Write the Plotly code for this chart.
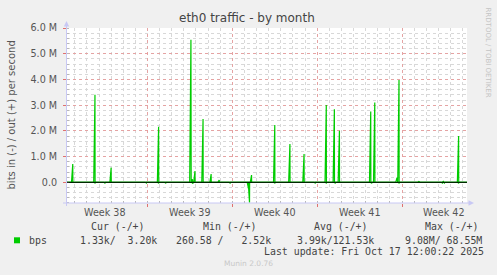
import plotly.graph_objects as go
from datetime import datetime, timedelta

# ---------------- data ----------------
out_times = ["2025-09-15 20:00", "2025-09-17 16:00", "2025-09-19 00:00", "2025-09-22 22:00",
             "2025-09-25 14:00", "2025-09-25 17:00", "2025-09-25 22:00", "2025-09-26 14:00",
             "2025-09-27 06:00", "2025-09-27 22:00", "2025-09-30 14:00", "2025-10-02 12:00",
             "2025-10-03 18:00", "2025-10-04 22:00", "2025-10-06 18:00", "2025-10-07 10:00",
             "2025-10-07 20:00", "2025-10-10 10:00", "2025-10-10 18:00", "2025-10-12 14:00",
             "2025-10-12 18:00", "2025-10-14 10:00", "2025-10-16 10:00", "2025-10-17 16:00"]
out_bps = [0.71e6, 3.40e6, 0.57e6, 2.16e6,
           5.54e6, 0.12e6, 0.44e6, 2.46e6,
           0.32e6, 0.09e6, 0.28e6, 2.23e6,
           1.49e6, 1.10e6, 3.01e6, 2.84e6,
           2.00e6, 2.75e6, 3.10e6, 0.18e6,
           3.98e6, 0.04e6, 0.03e6, 1.80e6]

in_times = ["2025-09-17 16:00", "2025-09-18 12:00", "2025-09-21 22:00", "2025-09-22 22:00",
            "2025-09-23 12:00", "2025-09-25 18:00", "2025-09-28 20:00", "2025-09-30 08:00",
            "2025-09-30 10:00", "2025-10-02 12:00", "2025-10-05 20:00", "2025-10-06 18:00",
            "2025-10-07 12:00", "2025-10-10 12:00", "2025-10-12 18:00", "2025-10-16 08:00",
            "2025-10-16 12:00", "2025-10-17 16:00"]
in_bps = [-0.03e6, -0.04e6, -0.03e6, -0.03e6,
          -0.03e6, -0.05e6, -0.04e6, -0.25e6,
          -0.79e6, -0.03e6, -0.03e6, -0.03e6,
          -0.04e6, -0.04e6, -0.03e6, -0.03e6,
          -0.03e6, -0.03e6]

x_start = "2025-09-15 08:37"
x_end = "2025-10-18 08:37"
week_starts = ["2025-09-22", "2025-09-29", "2025-10-06", "2025-10-13"]
week_label_times = ["2025-09-18 12:00", "2025-09-25 12:00", "2025-10-02 12:00",
                    "2025-10-09 12:00", "2025-10-16 12:00"]
week_labels = ["Week 38", "Week 39", "Week 40", "Week 41", "Week 42"]

y_tickvals = [0, 1e6, 2e6, 3e6, 4e6, 5e6, 6e6]
y_ticktext = ["0.0", "1.0 M", "2.0 M", "3.0 M", "4.0 M", "5.0 M", "6.0 M"]

legend_name = "bps"
legend_headers = ["Cur (-/+)", "Min (-/+)", "Avg (-/+)", "Max (-/+)"]
legend_values = ["1.33k/  3.20k", "260.58 /   2.52k", "3.99k/121.53k", "9.08M/ 68.55M"]
last_update = "Last update: Fri Oct 17 12:00:22 2025"

# ---------------- layout geometry (pixels) ----------------
W, H = 497, 275
L, R, T, B = 67, 467, 28, 203


def px(x):
    return (x - L) / (R - L)


def py(y):
    return (B - y) / (B - T)


def spike_series(times, vals):
    xs, ys = [datetime.strptime(x_start, "%Y-%m-%d %H:%M")], [0]
    for t, v in zip(times, vals):
        tt = datetime.strptime(t, "%Y-%m-%d %H:%M")
        xs += [tt - timedelta(hours=2.5), tt, tt + timedelta(minutes=15)]
        ys += [0, v, 0]
    xs.append(datetime.strptime(x_end, "%Y-%m-%d %H:%M"))
    ys.append(0)
    return xs, ys


GREEN = "#00CC00"
fig = go.Figure()
ox, oy = spike_series(out_times, out_bps)
ix, iy = spike_series(in_times, in_bps)
fig.add_trace(go.Scatter(x=ix, y=iy, mode="lines", line=dict(color=GREEN, width=1.2),
                         hoverinfo="skip", showlegend=False))
fig.add_trace(go.Scatter(x=ox, y=oy, mode="lines", line=dict(color=GREEN, width=1.2),
                         hoverinfo="skip", showlegend=False))

MAJ = "rgba(232,150,150,0.8)"
MIN = "#d8d8d8"
AXC = "#c8c8f4"
TXT = "#555555"

fig.update_layout(
    width=W, height=H,
    margin=dict(l=L, r=W - R, t=T, b=H - B, pad=0),
    paper_bgcolor="#F0F0F0",
    plot_bgcolor="#FFFFFF",
    showlegend=False,
    font=dict(family="DejaVu Sans", color=TXT, size=10),
    xaxis=dict(
        type="date", range=[x_start, x_end],
        tickvals=week_starts, showticklabels=False,
        showgrid=True, gridcolor=MAJ, griddash="dot", gridwidth=1,
        ticks="outside", ticklen=3, tickcolor="#e07070",
        minor=dict(dtick=86400000, tick0="2025-09-15", showgrid=True, gridcolor=MIN,
                   griddash="dot", ticks="inside", ticklen=2, tickcolor="#b8b8b8"),
        zeroline=False, showline=False, fixedrange=True,
    ),
    yaxis=dict(
        range=[-0.805e6, 6.0e6],
        tickvals=y_tickvals, ticktext=y_ticktext,
        tickfont=dict(size=9.6, color=TXT),
        showgrid=True, gridcolor=MAJ, griddash="dot", gridwidth=1,
        ticks="outside", ticklen=3, tickcolor="#e07070", ticklabelstandoff=4,
        minor=dict(dtick=0.2e6, tick0=0, showgrid=True, gridcolor=MIN, griddash="dot",
                   ticks="inside", ticklen=2, tickcolor="#b8b8b8"),
        zeroline=False, showline=False, fixedrange=True,
    ),
)

shapes = []
# zero line on top
shapes.append(dict(type="line", xref="paper", yref="y", x0=0, x1=1, y0=0, y1=0,
                   line=dict(color="#000000", width=1), layer="above"))
# axis lines with arrows
shapes.append(dict(type="line", xref="paper", yref="paper", x0=px(66.5), x1=px(66.5),
                   y0=py(206), y1=py(24), line=dict(color=AXC, width=1), layer="above"))
shapes.append(dict(type="line", xref="paper", yref="paper", x0=px(63), x1=px(470),
                   y0=py(203), y1=py(203), line=dict(color=AXC, width=1), layer="above"))
shapes.append(dict(type="path", xref="paper", yref="paper",
                   path=f"M {px(66.5)} {py(21)} L {px(63.8)} {py(26.5)} L {px(69.2)} {py(26.5)} Z",
                   fillcolor=AXC, line=dict(width=0), layer="above"))
shapes.append(dict(type="path", xref="paper", yref="paper",
                   path=f"M {px(474)} {py(203)} L {px(468.5)} {py(200.3)} L {px(468.5)} {py(205.7)} Z",
                   fillcolor=AXC, line=dict(width=0), layer="above"))
# legend swatch
shapes.append(dict(type="rect", xref="paper", yref="paper", x0=px(14), x1=px(20),
                   y0=py(243.3), y1=py(237.3), fillcolor=GREEN, line=dict(width=0)))
fig.update_layout(shapes=shapes)

ann = []
ann.append(dict(text="eth0 traffic - by month", xref="paper", yref="paper",
                x=px(247), y=py(18), xanchor="center", yanchor="middle", showarrow=False,
                font=dict(size=12, color="#444444")))
ann.append(dict(text="bits in (-) / out (+) per second", xref="paper", yref="paper",
                x=px(10.5), y=py(115), xanchor="center", yanchor="middle", showarrow=False,
                textangle=-90, font=dict(size=10, color=TXT)))
ann.append(dict(text="RRDTOOL / TOBI OETIKER", xref="paper", yref="paper",
                x=px(487.5), y=py(5), xanchor="center", yanchor="top", showarrow=False,
                textangle=90, font=dict(size=7, color="#c4c4c4")))
for t, lab in zip(week_label_times, week_labels):
    ann.append(dict(text=lab, xref="x", yref="paper", x=t, y=py(212.7),
                    xanchor="center", yanchor="middle", showarrow=False,
                    font=dict(size=9.6, color=TXT)))

MONO = "DejaVu Sans Mono"
hdr_x = [89, 201, 312, 422.7]
val_x = [78, 174, 295, 403]
for x, s in zip(hdr_x, legend_headers):
    ann.append(dict(text=s.replace(" ", "\u00a0"), xref="paper", yref="paper", x=px(x), y=py(226.7),
                    xanchor="left", yanchor="middle", showarrow=False,
                    font=dict(family=MONO, size=9.9, color="#444444")))
for x, s in zip(val_x, legend_values):
    ann.append(dict(text=s.replace(" ", "\u00a0"), xref="paper", yref="paper", x=px(x), y=py(240),
                    xanchor="left", yanchor="middle", showarrow=False,
                    font=dict(family=MONO, size=9.9, color="#444444")))
ann.append(dict(text=legend_name, xref="paper", yref="paper", x=px(26.5), y=py(240),
                xanchor="left", yanchor="middle", showarrow=False,
                font=dict(family=MONO, size=9.9, color="#444444")))
ann.append(dict(text=last_update.replace(" ", "\u00a0"), xref="paper", yref="paper", x=px(261.5),
                y=py(251.7), xanchor="left", yanchor="middle", showarrow=False,
                font=dict(family=MONO, size=9.9, color="#444444")))
ann.append(dict(text="Munin 2.0.76", xref="paper", yref="paper", x=px(248), y=py(263.3),
                xanchor="center", yanchor="middle", showarrow=False,
                font=dict(size=7.5, color="#c8c8c8")))
fig.update_layout(annotations=ann)

fig.write_html("out.html", config={"displayModeBar": False})
